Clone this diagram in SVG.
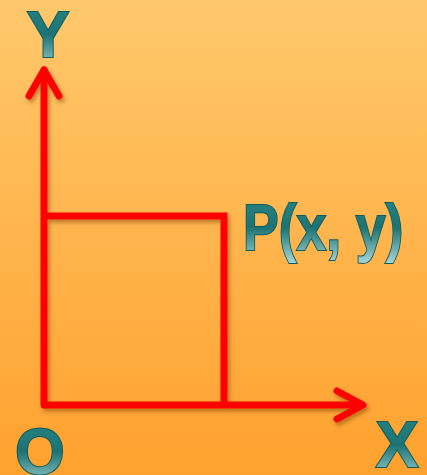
<svg xmlns="http://www.w3.org/2000/svg" width="427" height="475" viewBox="0 0 427 475">
<defs>
<linearGradient id="bg" x1="0" y1="0" x2="0" y2="1">
<stop offset="0" stop-color="#FFC86C"/>
<stop offset="1" stop-color="#FFA12E"/>
</linearGradient>
<linearGradient id="tg" x1="0" y1="0" x2="0" y2="1">
<stop offset="0" stop-color="#2A8585"/>
<stop offset="0.5" stop-color="#1D7373"/>
<stop offset="1" stop-color="#A8D6D6"/>
</linearGradient>
<filter id="sh" x="-10%" y="-10%" width="130%" height="130%">
<feDropShadow dx="2" dy="3" stdDeviation="2" flood-color="#7a3a00" flood-opacity="0.5"/>
</filter>
<style>
.lbl{font-family:"Liberation Sans",Arial,sans-serif;font-weight:bold;fill:url(#tg);stroke:#0E5C5C;stroke-width:2;paint-order:stroke}
.ln{fill:none;stroke:#FF0000;stroke-width:7;stroke-linecap:round;stroke-linejoin:round}
.sq{fill:none;stroke:#FF0000;stroke-width:7;stroke-linecap:butt;stroke-linejoin:miter}
</style>
</defs>
<rect width="427" height="475" fill="url(#bg)"/>
<g id="connectors" filter="url(#sh)">
<path class="sq" d="M44 216 H224 V405"/>
<path class="ln" d="M44 405 V70"/>
<path class="ln" d="M29 96 L44 70 L59 96"/>
<path class="sq" d="M44 405 H362"/>
<path class="ln" d="M337 391 L363 405 L337 419"/>
</g>
<g id="Y"><text class="lbl" x="48" y="57" font-size="64" text-anchor="middle">Y</text></g>
<g id="P"><text class="lbl" x="0" y="250" font-size="64" transform="translate(243 0) scale(0.835 1)">P(x, y)</text></g>
<g id="O"><text class="lbl" x="40" y="474" font-size="64" text-anchor="middle">O</text></g>
<g id="X"><text class="lbl" x="397" y="467" font-size="64" text-anchor="middle">X</text></g>
</svg>
